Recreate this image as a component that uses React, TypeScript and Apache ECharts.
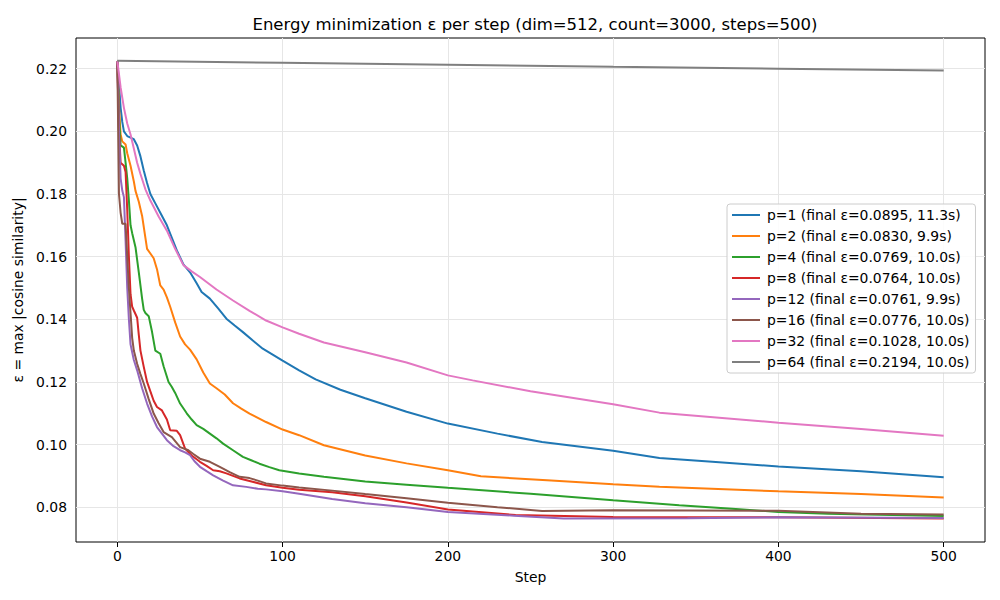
import React, { useEffect, useRef } from "react";
import * as echarts from "echarts";

const seriesNames = [
  "p=1 (final ε=0.0895, 11.3s)",
  "p=2 (final ε=0.0830, 9.9s)",
  "p=4 (final ε=0.0769, 10.0s)",
  "p=8 (final ε=0.0764, 10.0s)",
  "p=12 (final ε=0.0761, 9.9s)",
  "p=16 (final ε=0.0776, 10.0s)",
  "p=32 (final ε=0.1028, 10.0s)",
  "p=64 (final ε=0.2194, 10.0s)",
];
const colors = ["#1f77b4", "#ff7f0e", "#2ca02c", "#d62728", "#9467bd", "#8c564b", "#e377c2", "#7f7f7f"];

const xTicks = [0, 100, 200, 300, 400, 500];
const yTicks = [0.08, 0.1, 0.12, 0.14, 0.16, 0.18, 0.2, 0.22];

const p1 = [[0,0.2225],[1,0.2150],[2,0.2075],[3,0.2030],[4,0.2000],[6,0.1985],[8,0.1980],[10,0.1975],[12,0.1955],[14,0.1920],[16,0.1875],[18,0.1835],[20,0.1800],[23,0.1770],[26,0.1740],[30,0.1700],[33,0.1660],[36,0.1620],[40,0.1575],[44,0.1550],[48,0.1515],[51,0.1487],[56,0.1466],[61,0.1435],[66,0.1402],[71,0.1380],[76,0.1359],[82,0.1332],[88,0.1306],[94,0.1287],[100,0.1268],[110,0.1237],[120,0.1208],[135,0.1175],[150,0.1148],[175,0.1105],[200,0.1067],[230,0.1035],[257,0.1008],[300,0.0980],[328,0.0957],[360,0.0945],[400,0.0930],[450,0.0915],[500,0.0896]];
const p2 = [[0,0.2225],[1,0.2080],[2,0.1990],[3,0.1968],[5,0.1958],[6,0.1930],[8,0.1890],[10,0.1840],[11,0.1810],[13,0.1775],[15,0.1730],[17,0.1660],[18,0.1625],[20,0.1610],[22,0.1595],[24,0.1560],[26,0.1508],[28,0.1495],[30,0.1470],[32,0.1440],[35,0.1390],[38,0.1345],[41,0.1320],[44,0.1303],[48,0.1272],[52,0.1230],[56,0.1195],[60,0.1180],[65,0.1160],[70,0.1132],[75,0.1115],[80,0.1099],[90,0.1072],[100,0.1048],[110,0.1030],[125,0.0998],[150,0.0965],[175,0.0940],[200,0.0918],[220,0.0899],[260,0.0886],[300,0.0873],[328,0.0865],[400,0.0851],[450,0.0842],[500,0.0831]];
const p4 = [[0,0.2225],[1,0.2050],[2,0.1955],[4,0.1948],[5,0.1900],[6,0.1850],[7,0.1780],[8,0.1700],[9,0.1675],[11,0.1630],[12,0.1590],[13,0.1550],[15,0.1466],[16,0.1430],[17,0.1420],[19,0.1410],[21,0.1360],[23,0.1300],[26,0.1290],[28,0.1250],[31,0.1200],[33,0.1184],[35,0.1165],[38,0.1131],[42,0.1100],[45,0.1080],[48,0.1062],[52,0.1050],[56,0.1035],[60,0.1020],[64,0.1003],[70,0.0982],[76,0.0961],[81,0.0950],[86,0.0939],[92,0.0928],[98,0.0918],[110,0.0908],[125,0.0897],[150,0.0882],[175,0.0872],[200,0.0862],[250,0.0843],[300,0.0822],[340,0.0806],[372,0.0795],[400,0.0785],[430,0.0779],[500,0.0772]];
const p8 = [[0,0.2225],[1,0.2000],[2,0.1900],[4,0.1890],[5,0.1870],[6,0.1750],[7,0.1600],[8,0.1480],[9,0.1440],[10,0.1428],[12,0.1405],[13,0.1350],[14,0.1300],[16,0.1248],[18,0.1200],[20,0.1170],[22,0.1140],[24,0.1120],[27,0.1109],[30,0.1080],[32,0.1046],[34,0.1045],[36,0.1044],[38,0.1030],[41,0.0987],[45,0.0965],[50,0.0945],[54,0.0932],[58,0.0918],[62,0.0915],[66,0.0908],[70,0.0900],[74,0.0892],[80,0.0884],[90,0.0870],[100,0.0862],[110,0.0856],[130,0.0848],[150,0.0835],[175,0.0815],[200,0.0793],[241,0.0775],[300,0.0769],[400,0.0768],[500,0.0764]];
const p12 = [[0,0.2225],[1,0.2000],[2,0.1850],[3,0.1811],[4,0.1790],[5,0.1650],[6,0.1500],[7,0.1400],[8,0.1320],[9,0.1295],[10,0.1270],[12,0.1237],[15,0.1180],[18,0.1131],[21,0.1090],[24,0.1056],[27,0.1035],[30,0.1014],[34,0.0995],[38,0.0982],[41,0.0975],[44,0.0966],[47,0.0945],[50,0.0929],[54,0.0915],[58,0.0902],[64,0.0885],[70,0.0870],[78,0.0865],[85,0.0859],[90,0.0857],[100,0.0851],[110,0.0843],[130,0.0826],[150,0.0813],[175,0.0800],[200,0.0785],[240,0.0773],[270,0.0764],[345,0.0765],[400,0.0768],[500,0.0766]];
const p16 = [[0,0.2225],[1,0.1800],[2,0.1740],[3,0.1705],[5,0.1705],[6,0.1600],[7,0.1500],[8,0.1420],[9,0.1340],[10,0.1300],[12,0.1258],[14,0.1225],[16,0.1195],[19,0.1145],[22,0.1099],[25,0.1068],[28,0.1040],[33,0.1024],[38,0.0992],[43,0.0982],[46,0.0970],[50,0.0955],[56,0.0945],[62,0.0929],[68,0.0912],[74,0.0897],[80,0.0893],[85,0.0885],[90,0.0876],[100,0.0869],[110,0.0863],[130,0.0853],[150,0.0842],[175,0.0829],[200,0.0814],[230,0.0800],[257,0.0788],[300,0.0790],[400,0.0789],[450,0.0779],[500,0.0777]];
const p32 = [[0,0.2225],[2,0.2140],[4,0.2075],[6,0.2025],[8,0.1990],[10,0.1945],[12,0.1900],[14,0.1864],[17,0.1815],[20,0.1779],[25,0.1728],[30,0.1683],[35,0.1625],[40,0.1573],[45,0.1553],[50,0.1535],[60,0.1495],[70,0.1460],[80,0.1427],[90,0.1396],[100,0.1374],[110,0.1354],[125,0.1326],[150,0.1295],[175,0.1262],[200,0.1221],[215,0.1205],[250,0.1170],[300,0.1129],[328,0.1102],[400,0.1070],[450,0.1050],[500,0.1028]];
const p64 = [[0,0.2225],[100,0.2219],[200,0.2213],[300,0.2206],[400,0.2200],[500,0.2194]];

const allData = [p1, p2, p4, p8, p12, p16, p32, p64];

const FONT = "DejaVu Sans";

export default function App() {
  const ref = useRef<HTMLDivElement>(null);
  useEffect(() => {
    document.body.style.margin = "0";
    const chart = echarts.init(ref.current!, null, { renderer: "svg" });
    const lineSeries = allData.map((d, i) => ({
      name: seriesNames[i],
      type: "line",
      data: d,
      showSymbol: false,
      symbol: "none",
      z: 3,
      lineStyle: { color: colors[i], width: 2 },
      itemStyle: { color: colors[i] },
      emphasis: { disabled: true },
    }));
    const gridSeries = {
      name: "__grid",
      type: "line",
      data: [],
      silent: true,
      z: 1,
      markLine: {
        silent: true,
        z: 1,
        symbol: ["none", "none"],
        label: { show: false },
        lineStyle: { color: "#e6e6e6", type: "solid", width: 1 },
        emphasis: { disabled: true },
        data: [
          ...xTicks.map((v) => ({ xAxis: v })),
          ...yTicks.map((v) => ({ yAxis: v })),
        ],
      },
    };
    chart.setOption({
      animation: false,
      textStyle: { fontFamily: FONT },
      title: {
        text: "Energy minimization ε per step (dim=512, count=3000, steps=500)",
        left: 530,
        top: 11,
        textAlign: "center",
        textStyle: { fontFamily: FONT, fontSize: 16.5, fontWeight: "normal", color: "#000" },
      },
      grid: {
        left: 76,
        right: 15,
        top: 38,
        bottom: 58,
        show: true,
        borderColor: "#000",
        borderWidth: 1,
        backgroundColor: "transparent",
      },
      legend: {
        data: seriesNames,
        orient: "vertical",
        left: 727,
        top: 204,
        z: 10,
        padding: [4, 6, 4, 5],
        itemGap: 7,
        itemWidth: 28,
        itemHeight: 2,
        icon: "rect",
        backgroundColor: "rgba(255,255,255,0.85)",
        borderColor: "#cccccc",
        borderWidth: 1,
        borderRadius: 3,
        textStyle: { fontFamily: FONT, fontSize: 13.9, color: "#000", padding: [0, 0, 0, 2] },
      },
      xAxis: {
        type: "value",
        min: -25,
        max: 525,
        interval: 25,
        name: "Step",
        nameLocation: "middle",
        nameGap: 28,
        nameTextStyle: { fontFamily: FONT, fontSize: 13.9, color: "#000" },
        axisLine: { show: false },
        axisTick: { show: true, customValues: xTicks, length: 5, lineStyle: { color: "#000" } },
        axisLabel: { customValues: xTicks, margin: 7, fontFamily: FONT, fontSize: 13.9, color: "#000" },
        splitLine: { show: false },
      },
      yAxis: {
        type: "value",
        min: 0.0689,
        max: 0.2298,
        name: "ε = max |cosine similarity|",
        nameLocation: "middle",
        nameGap: 44,
        nameRotate: 90,
        nameTextStyle: { fontFamily: FONT, fontSize: 13.9, color: "#000" },
        axisLine: { show: false },
        axisTick: { show: true, customValues: yTicks, length: 5, lineStyle: { color: "#000" } },
        axisLabel: {
          customValues: yTicks,
          margin: 9,
          fontFamily: FONT,
          fontSize: 13.9,
          color: "#000",
          formatter: (v: number) => v.toFixed(2),
        },
        splitLine: { show: false },
      },
      series: [gridSeries, ...lineSeries],
    });
    return () => chart.dispose();
  }, []);
  return <div ref={ref} style={{ width: 1000, height: 600 }} />;
}
